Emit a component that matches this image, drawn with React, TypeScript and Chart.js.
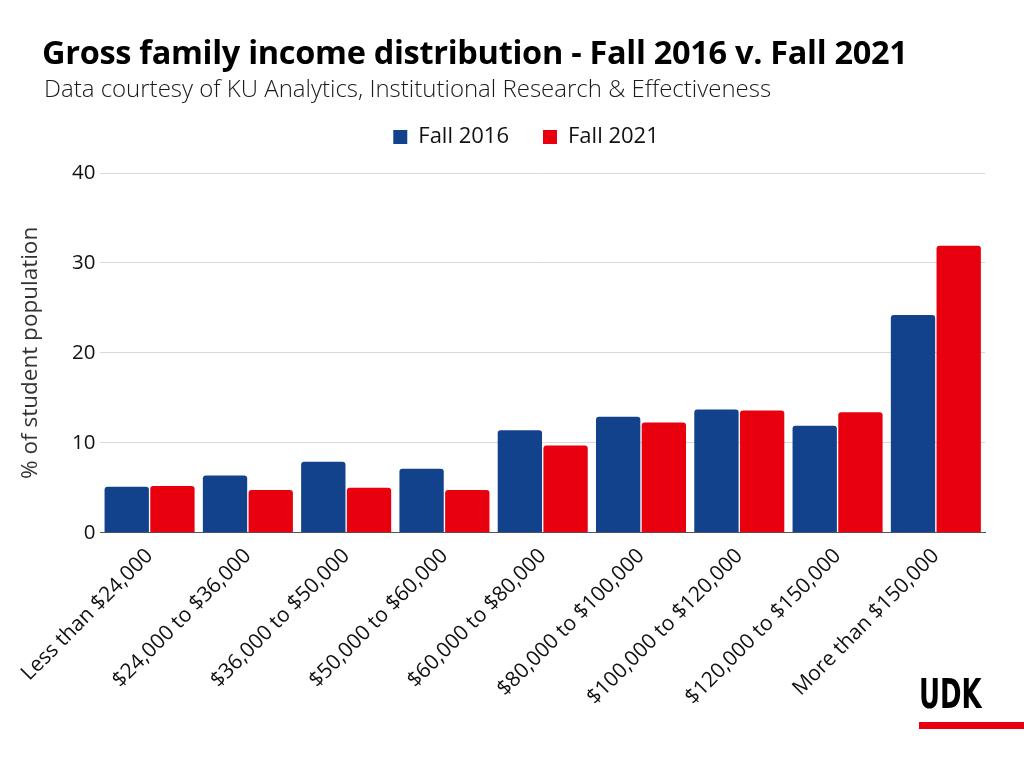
import React, { useEffect, useRef } from "react";
import { Chart, registerables } from "chart.js";

Chart.register(...registerables);

const categories = [
  "Less than $24,000",
  "$24,000 to $36,000",
  "$36,000 to $50,000",
  "$50,000 to $60,000",
  "$60,000 to $80,000",
  "$80,000 to $100,000",
  "$100,000 to $120,000",
  "$120,000 to $150,000",
  "More than $150,000",
];
const fall2016 = [5.1, 6.35, 7.9, 7.1, 11.4, 12.9, 13.7, 11.9, 24.2];
const fall2021 = [5.2, 4.75, 5.0, 4.75, 9.7, 12.25, 13.6, 13.4, 31.9];
const yTicks = [0, 10, 20, 30, 40];

const FONT = "'Open Sans', 'Noto Sans', sans-serif";
const LEGEND_EXTRA = 15;
const LEGEND_SHIFT = 25;

const legendSpacer = {
  id: "legendSpacer",
  beforeUpdate(chart: any) {
    const lg = chart.legend;
    if (lg && !lg._patched) {
      const origFit = lg.fit;
      lg.fit = function () {
        origFit.call(this);
        this.height += LEGEND_EXTRA;
      };
      const origDraw = lg.draw;
      lg.draw = function () {
        const ctx = this.ctx;
        ctx.save();
        ctx.translate(LEGEND_SHIFT, 0);
        origDraw.call(this);
        ctx.restore();
      };
      lg._patched = true;
    }
  },
};

export default function App() {
  const ref = useRef<HTMLCanvasElement | null>(null);

  useEffect(() => {
    if (!ref.current) return;
    const chart = new Chart(ref.current, {
      type: "bar",
      data: {
        labels: categories,
        datasets: [
          {
            label: "Fall 2016",
            data: fall2016,
            backgroundColor: "#12428C",
            borderRadius: { topLeft: 3, topRight: 3 },
            borderSkipped: "bottom",
            barPercentage: 0.97,
            categoryPercentage: 0.93,
          },
          {
            label: "Fall 2021",
            data: fall2021,
            backgroundColor: "#E8000F",
            borderRadius: { topLeft: 3, topRight: 3 },
            borderSkipped: "bottom",
            barPercentage: 0.97,
            categoryPercentage: 0.93,
          },
        ],
      },
      plugins: [legendSpacer],
      options: {
        animation: false,
        responsive: false,
        maintainAspectRatio: false,
        layout: { padding: { top: 92, left: 17, right: 39, bottom: 55 } },
        plugins: {
          legend: {
            position: "top",
            labels: {
              boxWidth: 14,
              boxHeight: 14,
              padding: 34,
              color: "#111",
              font: { family: FONT, size: 22 },
            },
          },
          tooltip: { enabled: false },
        },
        scales: {
          x: {
            grid: { display: false },
            border: { display: true, color: "#555", width: 1 },
            ticks: {
              minRotation: 45,
              maxRotation: 45,
              color: "#111",
              font: { family: FONT, size: 21 },
            },
          },
          y: {
            min: 0,
            max: 40,
            afterBuildTicks: (axis: any) => {
              axis.ticks = yTicks.map((v) => ({ value: v }));
            },
            grid: { color: "#d9d9d9", drawTicks: false },
            border: { display: false },
            ticks: {
              padding: 5,
              color: "#111",
              font: { family: FONT, size: 20.5 },
            },
            title: {
              display: true,
              text: "% of student population",
              color: "#333",
              font: { family: FONT, size: 22.5 },
              padding: { top: 0, bottom: 23 },
            },
          },
        },
      },
    });
    return () => chart.destroy();
  }, []);

  return (
    <div style={{ position: "absolute", left: 0, top: 0, width: 1024, height: 768, background: "#fff", overflow: "hidden" }}>
      <canvas ref={ref} width={1024} height={768} style={{ position: "absolute", left: 0, top: 0, width: 1024, height: 768 }} />
      <div style={{ position: "absolute", left: 42, top: 29, fontFamily: FONT, fontWeight: 700, fontSize: 32.5, color: "#000", whiteSpace: "nowrap", letterSpacing: -0.3 }}>
        Gross family income distribution - Fall 2016 v. Fall 2021
      </div>
      <div style={{ position: "absolute", left: 44, top: 71, fontFamily: FONT, fontWeight: 300, fontSize: 24, color: "#1a1a1a", whiteSpace: "nowrap" }}>
        Data courtesy of KU Analytics, Institutional Research &amp; Effectiveness
      </div>
      <div style={{ position: "absolute", left: 919, top: 672, fontFamily: "'DejaVu Sans Condensed', 'Liberation Sans Narrow', sans-serif", fontWeight: 700, fontSize: 40, color: "#000", lineHeight: "44px", transform: "scaleX(0.72)", transformOrigin: "left" }}>
        UDK
      </div>
      <div style={{ position: "absolute", left: 919, top: 722, width: 105, height: 7, background: "#E8000F" }} />
    </div>
  );
}
